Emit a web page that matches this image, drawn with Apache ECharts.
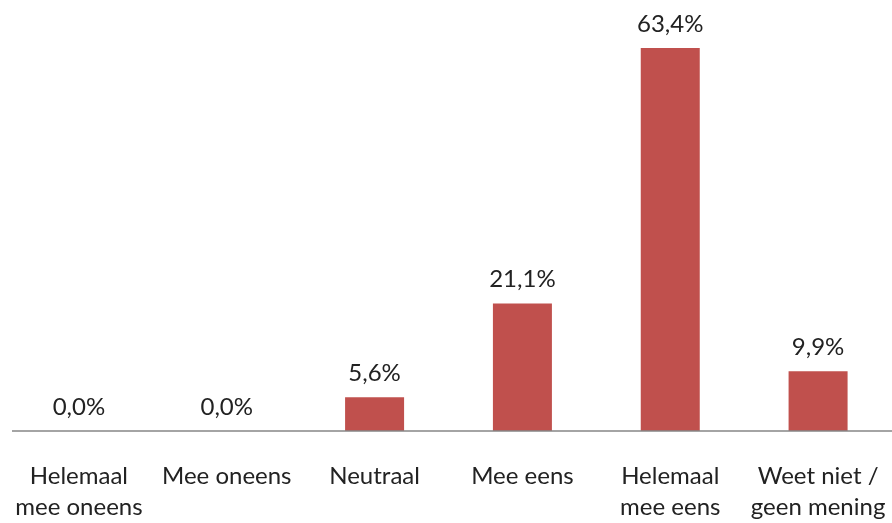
<!DOCTYPE html>
<html>
<head>
<meta charset="utf-8">
<script src="https://cdn.jsdelivr.net/npm/echarts@6/dist/echarts.min.js"></script>
<style>
  html, body { margin: 0; padding: 0; background: #fff; }
  #chart { width: 892px; height: 523px; }
</style>
</head>
<body>
<div id="chart"></div>
<script>
// Answer categories and share of respondents (%)
const categories = [
  'Helemaal\nmee oneens',
  'Mee oneens',
  'Neutraal',
  'Mee eens',
  'Helemaal\nmee eens',
  'Weet niet /\ngeen mening'
];
const shares = [0.0, 0.0, 5.6, 21.1, 63.4, 9.9];

const fontFamily = 'Lato, "Open Sans", sans-serif';
const textColor = '#222';

const chart = echarts.init(document.getElementById('chart'));

chart.setOption({
  animation: false,
  grid: { left: 5, top: 8, width: 893, bottom: 88, containLabel: false },
  xAxis: {
    type: 'category',
    data: categories,
    axisLine: { show: false },
    axisTick: { show: false },
    axisLabel: {
      interval: 0,
      margin: 30,
      fontFamily: fontFamily,
      fontSize: 24,
      lineHeight: 31,
      color: textColor
    }
  },
  yAxis: {
    type: 'value',
    min: 0,
    max: 70,
    show: false,
    splitLine: { show: false }
  },
  series: [{
    type: 'bar',
    data: shares,
    barWidth: 59,
    itemStyle: { color: '#C0504D' },
    label: {
      show: true,
      position: 'top',
      distance: 12,
      fontFamily: fontFamily,
      fontSize: 24,
      color: textColor,
      formatter: p => p.value.toFixed(1).replace('.', ',') + '%'
    }
  }]
});

// Baseline along the category axis
const baseY = chart.convertToPixel({ yAxisIndex: 0 }, 0);
chart.setOption({
  graphic: [{
    type: 'line',
    shape: { x1: 12, y1: baseY, x2: 892, y2: baseY },
    style: { stroke: '#868686', lineWidth: 1.5 },
    z: 10
  }]
});
</script>
</body>
</html>
